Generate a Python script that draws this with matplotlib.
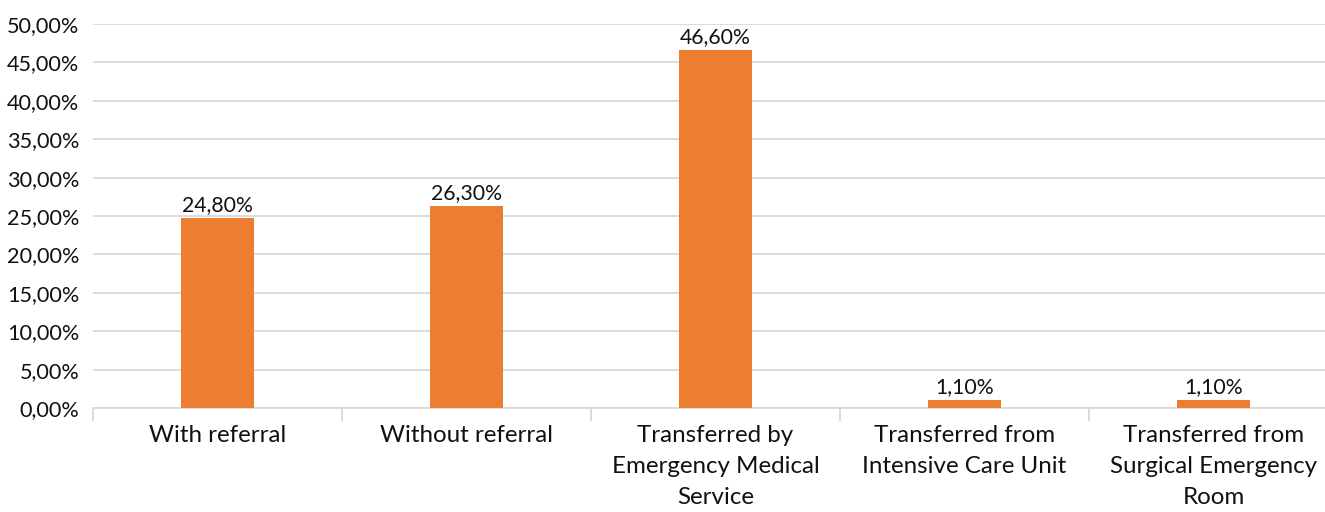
import matplotlib
matplotlib.use('Agg')
import matplotlib.pyplot as plt
from matplotlib.ticker import FuncFormatter
import numpy as np

categories = ['With referral', 'Without referral',
              'Transferred by\nEmergency Medical\nService',
              'Transferred from\nIntensive Care Unit',
              'Transferred from\nSurgical Emergency\nRoom']
values = [24.8, 26.3, 46.6, 1.1, 1.1]
y_ticks = [0, 5, 10, 15, 20, 25, 30, 35, 40, 45, 50]

plt.rcParams['font.family'] = ['Lato', 'DejaVu Sans']

fig = plt.figure(figsize=(13.25, 5.12), dpi=100, facecolor='white')
ax = fig.add_axes([93 / 1325, 1 - 408 / 512, 1245 / 1325, 384 / 512])

x = np.arange(len(categories))
bars = ax.bar(x, values, width=0.29, color='#ED7D31', zorder=3)

def pct(v):
    return f'{v:.2f}'.replace('.', ',') + '%'

for b, v in zip(bars, values):
    ax.text(b.get_x() + b.get_width() / 2, v + 0.35, pct(v),
            ha='center', va='bottom', fontsize=15.3, color='#111111')

ax.set_xlim(-0.5, len(categories) - 0.5)
ax.set_ylim(0, 50)
ax.set_yticks(y_ticks)
ax.yaxis.set_major_formatter(FuncFormatter(lambda v, p: pct(v)))
ax.grid(axis='y', color='#d9d9d9', linewidth=1.3, zorder=0)

# category labels between boundary ticks
ax.set_xticks(x)
ax.set_xticklabels(categories, fontsize=17.4, color='#111111', linespacing=1.6)
ax.tick_params(axis='x', length=0, pad=12)
ax.set_xticks(np.arange(len(categories) + 1) - 0.5, minor=True)
ax.tick_params(axis='x', which='minor', length=9, width=1.3, color='#d9d9d9')
ax.tick_params(axis='y', length=0, labelsize=15.6, labelcolor='#111111', pad=10)

for s in ['top', 'right', 'left']:
    ax.spines[s].set_visible(False)
ax.spines['bottom'].set_color('#d9d9d9')
ax.spines['bottom'].set_linewidth(1.3)

fig.savefig('out.png', dpi=100, facecolor='white')
